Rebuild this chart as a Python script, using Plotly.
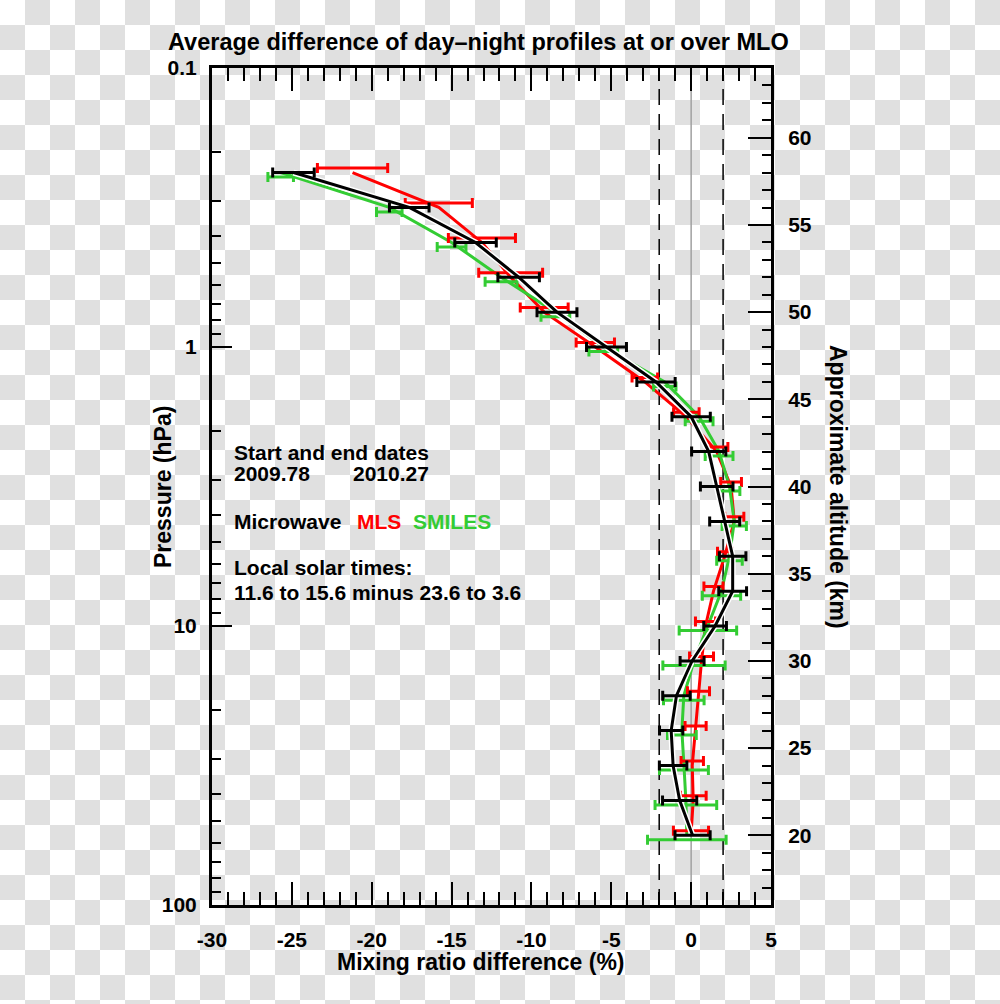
import base64
import plotly.graph_objects as go

# ---------------- data ----------------
# pressure levels (hPa), 2 km apart (approx 58 km down to 20 km)
pressure = [0.237, 0.316, 0.422, 0.562, 0.750, 1.000, 1.334, 1.778, 2.371, 3.162,
            4.217, 5.623, 7.499, 10.00, 13.34, 17.78, 23.71, 31.62, 42.17, 56.23]

# day-night differences (%) and error bars
mls = [-21.2, -15.8, -13.1, -11.3, -9.2, -6.0, -2.9, -0.3, 1.6, 2.5,
       2.7, 2.1, 1.4, 0.9, 0.65, 0.46, 0.28, 0.07, 0.13, -0.01]
mls_err = [2.2, 2.1, 2.1, 2.0, 1.5, 1.2, 0.8, 0.8, 0.7, 0.65,
           0.6, 0.45, 0.6, 0.63, 0.75, 0.69, 0.66, 0.7, 0.81, 1.1]

smiles = [-25.7, -18.9, -15.0, -11.9, -8.5, -5.5, -1.65, 0.5, 1.75, 2.4,
          2.7, 2.4, 1.9, 1.05, 0.18, -0.46, -0.58, -0.45, -0.33, -0.27]
smiles_err = [0.8, 0.8, 0.9, 1.0, 0.9, 0.9, 0.7, 0.87, 0.87, 0.65,
              0.76, 0.8, 1.2, 1.8, 1.95, 1.27, 0.9, 1.53, 1.93, 2.46]

average = [-24.9, -17.65, -13.5, -10.8, -8.4, -5.3, -2.2, 0.0, 1.1, 1.6,
           2.1, 2.6, 2.6, 1.5, 0.06, -0.92, -1.25, -1.13, -0.72, 0.09]
average_err = [1.3, 1.24, 1.3, 1.3, 1.25, 1.25, 1.2, 1.2, 1.07, 1.02,
               0.94, 0.83, 0.87, 0.71, 0.75, 0.86, 0.73, 0.86, 1.07, 1.1]

ref_lines = [-2, 0, 2]
x_ticks = [-30, -25, -20, -15, -10, -5, 0, 5]
x_ticktext = ["-30", "-25", "-20", "-15", "-10", "-5", "0", "5"]
p_ticks = [0.1, 1, 10, 100]
p_ticktext = ["0.1", "1", "10", "100"]
p_minor = [0.2, 0.3, 0.4, 0.5, 0.6, 0.7, 0.8, 0.9,
           2, 3, 4, 5, 6, 7, 8, 9, 20, 30, 40, 50, 60, 70, 80, 90]
km_ticks = [20, 25, 30, 35, 40, 45, 50, 55, 60]

# ---------------- style ----------------
RED = "#ff0000"
GREEN = "#33cc33"
BLACK = "#000000"
FONT = "Liberation Sans, Arial, Helvetica, sans-serif"
BAR_SHIFT = 1.038  # vertical display offset for red/green error bars

W, H = 1000, 1004
ML, MR, MT, MB = 212, 229, 68, 99
PW, PH = W - ML - MR, H - MT - MB

# checkerboard background (transparency look)
svg = (f'<svg xmlns="http://www.w3.org/2000/svg" width="{W}" height="{H}">'
       '<defs><pattern id="p" width="50" height="50" patternUnits="userSpaceOnUse">'
       '<rect width="50" height="50" fill="#ffffff"/>'
       '<rect x="25" y="0" width="25" height="25" fill="#e0e0e0"/>'
       '<rect x="0" y="25" width="25" height="25" fill="#e0e0e0"/>'
       '</pattern></defs>'
       f'<rect width="{W}" height="{H}" fill="url(#p)"/></svg>')
svg_uri = "data:image/svg+xml;base64," + base64.b64encode(svg.encode()).decode()

fig = go.Figure()

def err_trace(x, err, p, color, shift):
    return go.Scatter(
        x=x, y=[v * shift for v in p], mode="markers",
        marker=dict(size=1, color=color, opacity=0),
        error_x=dict(type="data", array=err, visible=True, color=color,
                     thickness=3, width=5),
        showlegend=False, hoverinfo="skip")

fig.add_trace(go.Scatter(x=mls, y=pressure, mode="lines",
                         line=dict(color=RED, width=3), showlegend=False))
fig.add_trace(go.Scatter(x=smiles, y=pressure, mode="lines",
                         line=dict(color=GREEN, width=3), showlegend=False))
fig.add_trace(err_trace(mls, mls_err, pressure, RED, 1 / BAR_SHIFT))
fig.add_trace(err_trace(smiles, smiles_err, pressure, GREEN, BAR_SHIFT))
fig.add_trace(go.Scatter(x=average, y=pressure, mode="lines",
                         line=dict(color="white", width=6), showlegend=False,
                         hoverinfo="skip"))
fig.add_trace(go.Scatter(x=average, y=pressure, mode="lines",
                         line=dict(color=BLACK, width=3), showlegend=False))
fig.add_trace(err_trace(average, average_err, pressure, BLACK, 1.0))
# anchor trace for the altitude axis
fig.add_trace(go.Scatter(x=[None], y=[None], yaxis="y2", showlegend=False,
                         hoverinfo="skip"))

for v in ref_lines:
    if v == 0:
        fig.add_shape(type="line", xref="x", yref="paper", x0=v, x1=v, y0=0, y1=1,
                      line=dict(color="#a0a0a0", width=1.5), layer="below")
    else:
        fig.add_shape(type="line", xref="x", yref="paper", x0=v, x1=v, y0=0, y1=1,
                      line=dict(color=BLACK, width=1.5, dash="16px,9px"), layer="below")

tickfont = dict(family=FONT, size=21, color=BLACK, weight="bold")

fig.update_layout(
    width=W, height=H,
    margin=dict(l=ML, r=MR, t=MT, b=MB, pad=0),
    paper_bgcolor="white", plot_bgcolor="rgba(0,0,0,0)",
    images=[dict(source=svg_uri, xref="paper", yref="paper",
                 x=-ML / PW, y=1 + MT / PH, sizex=W / PW, sizey=H / PH,
                 xanchor="left", yanchor="top", sizing="stretch", layer="below")],
    xaxis=dict(range=[-30, 5], tickmode="array", tickvals=x_ticks, ticktext=x_ticktext,
               ticks="inside", ticklen=23, tickwidth=2, tickcolor=BLACK,
               minor=dict(dtick=1, tick0=0, ticks="inside", ticklen=13,
                          tickwidth=2, tickcolor=BLACK, showgrid=False),
               showline=True, linewidth=3, linecolor=BLACK, mirror="ticks",
               showgrid=False, zeroline=False, tickfont=tickfont,
               ticklabelstandoff=14),
    yaxis=dict(type="log", range=[2, -1], tickmode="array", tickvals=p_ticks,
               ticktext=p_ticktext,
               ticks="inside", ticklen=20, tickwidth=2, tickcolor=BLACK,
               minor=dict(tickvals=p_minor, ticks="inside", ticklen=9,
                          tickwidth=2, tickcolor=BLACK, showgrid=False),
               showline=True, linewidth=3, linecolor=BLACK, mirror=False,
               showgrid=False, zeroline=False, tickfont=tickfont,
               ticklabelstandoff=8),
    yaxis2=dict(overlaying="y", side="right", range=[16, 64],
                tickmode="array", tickvals=km_ticks,
                ticks="inside", ticklen=23, tickwidth=2, tickcolor=BLACK,
                minor=dict(dtick=1, tick0=0, ticks="inside", ticklen=9,
                           tickwidth=2, tickcolor=BLACK, showgrid=False),
                showline=True, linewidth=3, linecolor=BLACK,
                showgrid=False, zeroline=False, tickfont=tickfont,
                ticklabelstandoff=10),
    showlegend=False,
)

def ann(text, x_px, y_px, color=BLACK, size=21, xanchor="left", angle=0):
    fig.add_annotation(text=text, xref="paper", yref="paper",
                       x=(x_px - ML) / PW, y=(H - MB - y_px) / PH,
                       xanchor=xanchor, yanchor="middle", showarrow=False,
                       textangle=angle,
                       font=dict(family=FONT, size=size, color=color, weight="bold"))

ann("Average difference of day\u2013night profiles at or over MLO", 478, 42, size=23.5, xanchor="center")
ann("Pressure (hPa)", 163, 487, size=23, xanchor="center", angle=-90)
ann("Mixing ratio difference (%)", 481, 962, size=23, xanchor="center")
ann("Approximate altitude (km)", 838, 487, size=23, xanchor="center", angle=90)
ann("Start and end dates", 232, 452)
ann("2009.78", 232, 474)
ann("2010.27", 351, 474)
ann("Microwave", 232, 521)
ann("MLS", 355, 521, color=RED)
ann("SMILES", 411, 521, color=GREEN)
ann("Local solar times:", 232, 567)
ann("11.6 to 15.6 minus 23.6 to 3.6", 232, 592)

fig.write_html("out.html", config={"displayModeBar": False},
               post_script="document.body.style.margin='0px';document.body.style.padding='0px';")
